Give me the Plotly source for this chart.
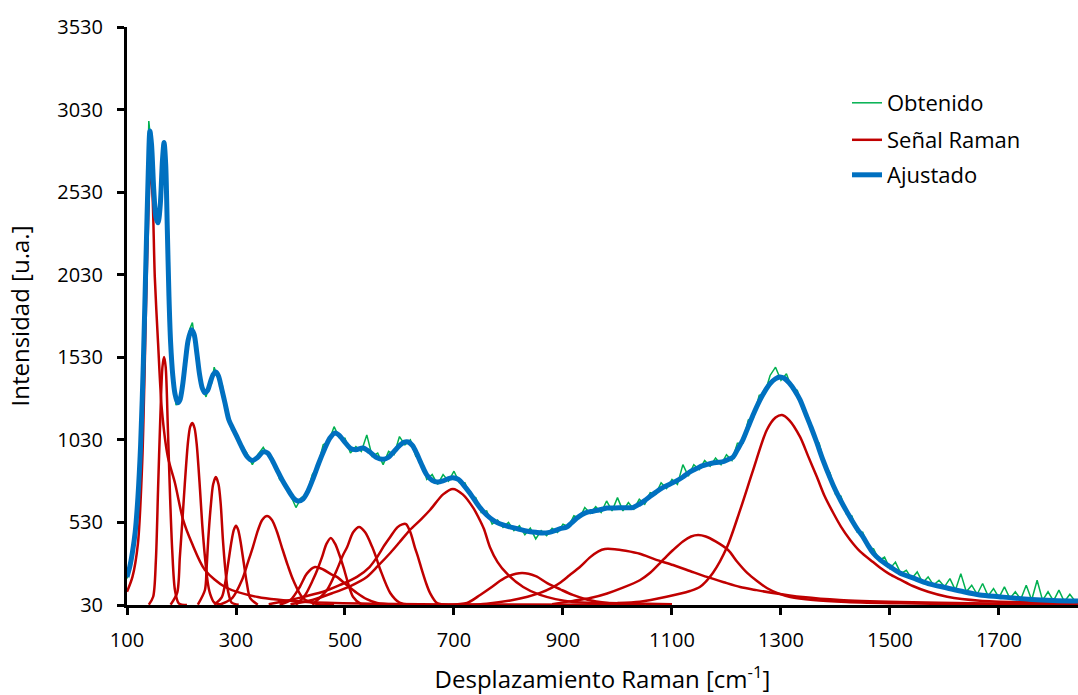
import plotly.graph_objects as go

# ---------------- data ----------------
x_ticks = [100, 300, 500, 700, 900, 1100, 1300, 1500, 1700]
y_ticks = [30, 530, 1030, 1530, 2030, 2530, 3030, 3530]

# measured spectrum (Obtenido)
green_x = list(range(100, 305, 5)) + list(range(310, 1850, 10))
green_y = [
    190, 275, 340, 490, 670, 1020, 1490, 2170, 2960, 2790,
    2500, 2370, 2420, 2740, 2760, 2170, 1600, 1410, 1240, 1270,
    1320, 1460, 1590, 1700, 1740, 1620, 1530, 1380, 1340, 1290,
    1350, 1370, 1470, 1420, 1400, 1360, 1230, 1190, 1140, 1080,
    1070,
    1000, 950, 880, 940, 985, 930, 900, 790, 770, 690,
    620, 680, 700, 820, 870, 1000, 1020, 1110, 1040, 1040,
    950, 990, 960, 1060, 930, 950, 880, 960, 940, 1050,
    1000, 1030, 930, 905, 790, 820, 760, 820, 780, 840,
    770, 770, 690, 680, 590, 600, 520, 545, 500, 530,
    480, 510, 455, 495, 430, 480, 450, 495, 470, 520,
    505, 570, 555, 620, 585, 625, 590, 660, 600, 680,
    600, 650, 610, 670, 640, 710, 700, 770, 735, 790,
    760, 880, 810, 880, 850, 905, 870, 920, 880, 940,
    905, 1010, 1010, 1150, 1170, 1300, 1310, 1420, 1470, 1390,
    1430, 1340, 1330, 1210, 1170, 1050, 1010, 880, 830, 700,
    690, 580, 570, 470, 470, 380, 370, 300, 320, 250,
    290, 220, 240, 190, 230, 165, 200, 150, 180, 140,
    190, 120, 220, 110, 150, 95, 160, 85, 130, 75,
    140, 70, 110, 65, 150, 60, 180, 58, 110, 55,
    120, 50, 95, 52,
]

# fitted curve (Ajustado)
fit_x = [100, 105, 110, 115, 120, 125, 130, 135, 139, 142, 145, 149, 153, 157, 161, 165, 168, 171, 174, 177,
         180, 184, 188, 193, 197, 202, 207, 212, 218, 223, 228, 233, 238, 243, 248, 253, 258, 263, 268, 273,
         280, 287, 294, 300, 310, 320, 330, 340, 350, 358, 365, 375, 385, 395, 405, 414, 423, 432, 442, 452,
         462, 472, 482, 490, 500, 510, 520, 533, 545, 557, 570, 580, 590, 600, 608, 616, 624, 632, 640, 650,
         660, 670, 680, 690, 698, 708, 718, 729, 740, 750, 760, 770, 780, 790, 800, 810, 820, 830, 840, 850,
         863, 875, 885, 895, 907, 915, 925, 935, 945, 955, 970, 981, 995, 1010, 1028, 1040, 1050, 1060, 1070, 1080,
         1090, 1100, 1110, 1120, 1133, 1145, 1155, 1165, 1175, 1185, 1194, 1202, 1212, 1220, 1230, 1240, 1250, 1260, 1270, 1280,
         1290, 1298, 1306, 1315, 1325, 1335, 1345, 1355, 1365, 1377, 1390, 1400, 1410, 1420, 1427, 1440, 1450, 1460, 1469, 1482,
         1500, 1518, 1542, 1570, 1605, 1635, 1665, 1700, 1726, 1760, 1800, 1845]
fit_y = [200, 260, 350, 470, 680, 1000, 1500, 2150, 2650, 2900, 2820, 2550, 2380, 2344, 2450, 2720, 2830, 2700, 2300, 1900,
         1620, 1420, 1310, 1255, 1270, 1360, 1500, 1630, 1696, 1670, 1560, 1430, 1345, 1315, 1330, 1380, 1425, 1441, 1415, 1350,
         1250, 1150, 1100, 1060, 990, 930, 905, 925, 957, 950, 915, 850, 785, 730, 680, 660, 672, 720, 800, 890,
         970, 1040, 1072, 1055, 1015, 978, 970, 981, 958, 925, 912, 925, 960, 995, 1015, 1017, 995, 945, 885, 818,
         785, 775, 782, 795, 800, 790, 755, 708, 655, 610, 575, 548, 528, 515, 505, 497, 488, 480, 474, 470,
         466, 470, 480, 492, 502, 525, 555, 578, 592, 598, 608, 617, 618, 619, 620, 640, 662, 688, 712, 735,
         752, 768, 785, 805, 836, 856, 872, 882, 890, 894, 898, 910, 926, 970, 1029, 1110, 1190, 1262, 1322, 1370,
         1400, 1411, 1403, 1375, 1330, 1272, 1190, 1108, 1020, 908, 800, 725, 660, 600, 560, 490, 445, 390, 345, 303,
         262, 224, 194, 160, 133, 110, 91, 80, 72, 64, 58, 54]

# fitted Raman components (Señal Raman)
p01_x = [100, 110, 120, 128, 135, 140, 143, 147, 151, 157, 164, 175, 188, 203, 219, 243, 280, 340, 430, 550, 700, 1000]
p01_y = [110, 200, 400, 900, 1850, 2500, 2690, 2500, 2017, 1617, 1211, 926, 769, 545, 405, 242, 139, 78, 48, 38, 33, 31]
p02_x = [140, 148, 153, 157, 161, 165, 168, 171, 175, 179, 183, 188, 195, 210]
p02_y = [32, 80, 300, 730, 1150, 1470, 1532, 1470, 1100, 690, 360, 120, 40, 30]
p03_x = [180, 192, 197, 202, 206, 212, 216, 220, 224, 228, 234, 238, 243, 248, 252, 260, 275]
p03_y = [32, 103, 321, 560, 760, 1020, 1110, 1132, 1100, 1000, 727, 520, 321, 170, 103, 45, 32]
p04_x = [230, 243, 246, 249, 254, 258, 263, 268, 272, 276, 280, 285, 292, 305]
p04_y = [32, 121, 250, 424, 640, 760, 805, 760, 640, 424, 260, 121, 45, 32]
p05_x = [260, 274, 280, 286, 292, 296, 300, 304, 308, 314, 320, 326, 340]
p05_y = [32, 78, 160, 290, 420, 485, 510, 485, 420, 290, 160, 72, 32]
p06_x = [270, 293, 311, 322, 331, 340, 348, 357, 366, 375, 384, 395, 405, 423, 450, 480]
p06_y = [32, 72, 181, 290, 381, 480, 545, 569, 545, 475, 381, 270, 181, 72, 35, 32]
p07_x = [380, 400, 417, 430, 445, 460, 475, 485, 500, 522, 540, 559, 590]
p07_y = [32, 60, 139, 220, 260, 245, 215, 200, 160, 103, 65, 42, 32]
p08_x = [410, 427, 441, 450, 458, 466, 474, 482, 491, 498, 504, 515, 530, 545]
p08_y = [32, 91, 181, 250, 321, 400, 436, 400, 321, 250, 181, 78, 35, 32]
p09_x = [440, 467, 485, 496, 504, 515, 526, 537, 550, 557, 565, 583, 600, 620]
p09_y = [32, 121, 242, 330, 381, 470, 502, 470, 381, 320, 242, 103, 45, 32]
p10_x = [360, 400, 430, 460, 490, 522, 545, 559, 572, 583, 596, 605, 612, 620, 628, 635, 641, 648, 656, 669, 690]
p10_y = [35, 60, 85, 110, 150, 200, 260, 321, 390, 442, 500, 518, 520, 470, 381, 310, 242, 170, 103, 42, 32]
p11_x = [400, 440, 478, 510, 540, 560, 583, 600, 619, 640, 656, 680, 698, 716, 735, 745, 755, 766, 780, 796, 827, 858, 918, 981, 1100]
p11_y = [35, 60, 103, 145, 200, 265, 345, 410, 484, 550, 605, 700, 733, 700, 620, 560, 490, 380, 290, 224, 139, 91, 48, 42, 35]
p12_x = [690, 724, 748, 770, 784, 800, 825, 850, 871, 895, 918, 945, 968, 1000, 1050]
p12_y = [32, 42, 91, 140, 175, 205, 224, 205, 163, 125, 91, 62, 48, 36, 32]
p13_x = [720, 760, 808, 835, 858, 880, 894, 912, 931, 950, 965, 977, 995, 1015, 1041, 1070, 1102, 1133, 1164, 1195,
         1225, 1255, 1285, 1340, 1408, 1518, 1650, 1845]
p13_y = [30, 38, 60, 80, 103, 135, 163, 210, 260, 320, 355, 369, 368, 358, 340, 305, 272, 236, 200, 168,
         139, 120, 103, 78, 60, 48, 40, 35]
p14_x = [880, 918, 950, 981, 1010, 1041, 1060, 1078, 1090, 1102, 1120, 1135, 1148, 1162, 1180, 1203, 1220, 1238, 1256, 1274,
         1295, 1317, 1359, 1420, 1520, 1650, 1845]
p14_y = [35, 55, 72, 100, 135, 180, 225, 284, 325, 363, 415, 445, 454, 445, 415, 363, 290, 224, 175, 133,
         100, 78, 60, 48, 40, 35, 32]
p15_x = [1000, 1041, 1090, 1133, 1151, 1175, 1201, 1225, 1249, 1274, 1290, 1302, 1315, 1335, 1350, 1366, 1380, 1396, 1410, 1427,
         1445, 1469, 1482, 1500, 1518, 1542, 1570, 1605, 1665, 1750, 1845]
p15_y = [42, 50, 80, 115, 139, 224, 381, 605, 848, 1090, 1165, 1181, 1150, 1048, 930, 805, 690, 587, 505, 424,
         355, 290, 255, 215, 185, 145, 110, 80, 56, 46, 40]

peaks = [(p01_x, p01_y), (p02_x, p02_y), (p03_x, p03_y), (p04_x, p04_y), (p05_x, p05_y),
         (p06_x, p06_y), (p07_x, p07_y), (p08_x, p08_y), (p09_x, p09_y), (p10_x, p10_y),
         (p11_x, p11_y), (p12_x, p12_y), (p13_x, p13_y), (p14_x, p14_y), (p15_x, p15_y)]

GREEN = "#00B050"
RED = "#C00000"
BLUE = "#0070C0"
FONT = "Open Sans"

fig = go.Figure()
fig.add_trace(go.Scatter(x=green_x, y=green_y, mode="lines", name="Obtenido",
                         line=dict(color=GREEN, width=1.5), showlegend=True, legend="legend"))
for i, (px, py) in enumerate(peaks):
    fig.add_trace(go.Scatter(x=px, y=py, mode="lines", name="Señal Raman",
                             line=dict(color=RED, width=2.5, shape="spline", smoothing=0.8),
                             showlegend=(i == 0), legend="legend2"))
fig.add_trace(go.Scatter(x=fit_x, y=fit_y, mode="lines", name="Ajustado", showlegend=True,
                         line=dict(color=BLUE, width=5, shape="spline", smoothing=0.8), legend="legend3"))

leg_x = (847 - 127) / 951
leg_common = dict(font=dict(family=FONT, size=22, color="black"), bgcolor="rgba(0,0,0,0)",
                  xanchor="left", yanchor="middle", itemwidth=30, x=leg_x)
fig.update_layout(
    width=1078, height=695,
    showlegend=True,
    margin=dict(l=127, r=0, t=27, b=90),
    paper_bgcolor="white", plot_bgcolor="white",
    font=dict(family=FONT, size=20, color="black"),
    legend=dict(y=(605 - 103) / 578, **leg_common),
    legend2=dict(y=(605 - 140) / 578, **leg_common),
    legend3=dict(y=(605 - 175) / 578, **leg_common),
    xaxis=dict(range=[100, 1845], tickvals=x_ticks, ticktext=[str(v) for v in x_ticks],
               showgrid=False, zeroline=False, showline=True, linecolor="black", linewidth=3,
               ticks="outside", ticklen=7, tickwidth=3, tickcolor="black",
               tickfont=dict(family=FONT, size=20), ticklabelstandoff=8,
               title=dict(text="Desplazamiento Raman [cm<sup>-1</sup>]",
                          font=dict(family=FONT, size=24), standoff=22)),
    yaxis=dict(range=[30, 3530], tickvals=y_ticks, ticktext=[str(v) for v in y_ticks],
               showgrid=False, zeroline=False, showline=True, linecolor="black", linewidth=3,
               ticks="outside", ticklen=7, tickwidth=3, tickcolor="black",
               tickfont=dict(family=FONT, size=20), ticklabelstandoff=10,
               title=dict(text="Intensidad [u.a.]", font=dict(family=FONT, size=24), standoff=21)),
)
fig.write_html("out.html")
